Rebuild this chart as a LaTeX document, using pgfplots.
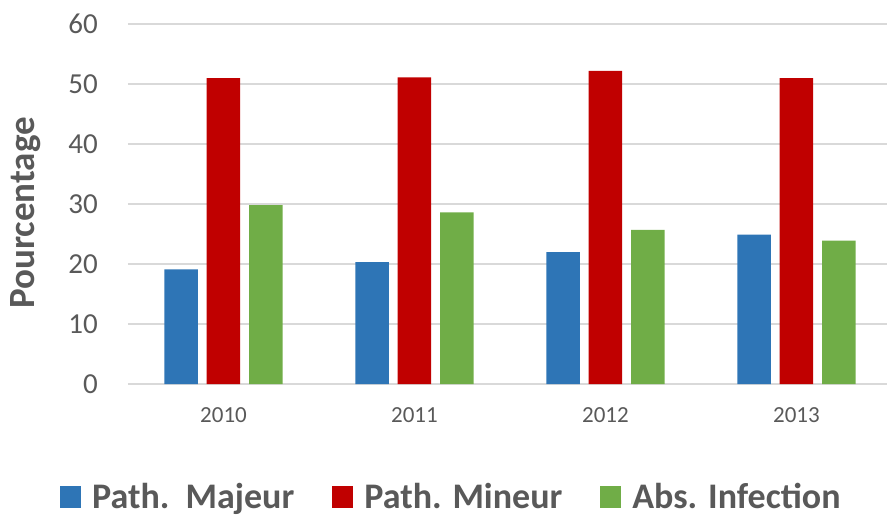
\documentclass[border=0pt]{standalone}
\usepackage{fontspec}
\setmainfont{Carlito}
\usepackage{pgfplots}
\pgfplotsset{compat=1.18}
\definecolor{cblue}{HTML}{2E75B6}
\definecolor{cred}{HTML}{C00000}
\definecolor{cgreen}{HTML}{70AD47}
\definecolor{cgrid}{HTML}{D9D9D9}
\definecolor{ctext}{HTML}{595959}
\begin{document}
\begin{tikzpicture}[x=1pt,y=1pt]
\begin{axis}[
  at={(128pt,131pt)}, anchor=south west,
  scale only axis, width=759pt, height=360pt,
  ymin=0, ymax=60, ytick={0,10,...,60},
  xmin=-0.5, xmax=3.474,
  xtick={0,1,2,3}, xticklabels={2010,2011,2012,2013},
  ybar=8.8pt, bar width=33.5pt,
  ymajorgrids, grid style={cgrid, line width=1.2pt},
  axis x line*=bottom, axis y line*=left,
  x axis line style={cgrid, line width=1.2pt, -},
  y axis line style={draw=none},
  tick style={draw=none}, major tick length=0pt,
  /pgf/number format/assume math mode=true,
  yticklabel style={font=\fontsize{29}{29}\selectfont, text=ctext, anchor=east, inner sep=0pt, xshift=-30pt},
  xticklabel style={font=\fontsize{23}{23}\selectfont, text=ctext, anchor=center, inner sep=0pt, yshift=-31pt},
  ylabel={Pourcentage},
  ylabel style={at={(axis description cs:-0.135,0.475)}, anchor=center, font=\bfseries\fontsize{37}{37}\selectfont, text=ctext},
  legend columns=3,
  legend style={at={(axis description cs:0.426,-0.312)}, anchor=center, draw=none, fill=none,
    font=\bfseries\fontsize{36}{36}\selectfont, text=ctext,
    /tikz/every even column/.append style={column sep=36pt}},
]
\addplot[fill=cblue, draw=none, legend image code/.code={\fill[cblue] (0pt,-12pt) rectangle (21pt,10pt); \path (30pt,0pt);}]
  coordinates {(0,19.1) (1,20.3) (2,22.0) (3,24.9)};
\addplot[fill=cred, draw=none, legend image code/.code={\fill[cred] (0pt,-12pt) rectangle (21pt,10pt); \path (30pt,0pt);}]
  coordinates {(0,51.0) (1,51.1) (2,52.2) (3,51.0)};
\addplot[fill=cgreen, draw=none, legend image code/.code={\fill[cgreen] (0pt,-12pt) rectangle (21pt,10pt); \path (30pt,0pt);}]
  coordinates {(0,29.8) (1,28.6) (2,25.7) (3,23.9)};
\legend{Path.\ \ Majeur, Path. Mineur, Abs. Infection}
\end{axis}
\pgfresetboundingbox
\path[use as bounding box] (0,0) rectangle (887,515);
\end{tikzpicture}
\end{document}
